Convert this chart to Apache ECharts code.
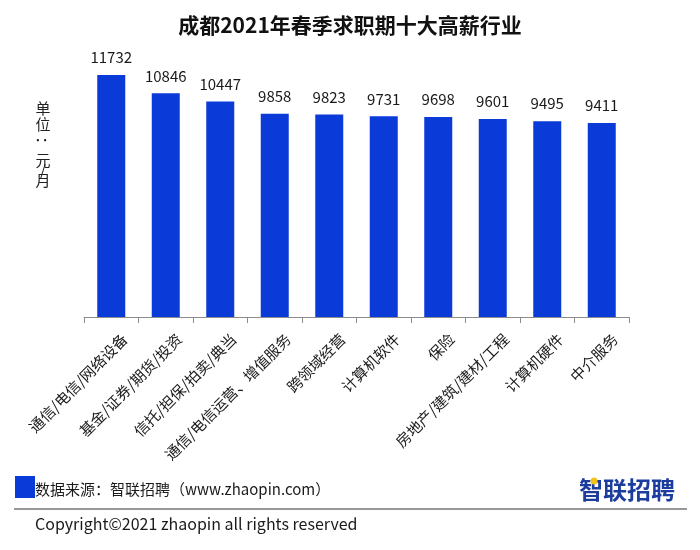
<!DOCTYPE html>
<html>
<head>
<meta charset="utf-8">
<script src="https://cdn.jsdelivr.net/npm/echarts@6/dist/echarts.min.js"></script>
<style>
html,body{margin:0;padding:0;background:#fff;}
#chart{width:700px;height:550px;}
</style>
</head>
<body>
<div id="chart"></div>
<script>
var titleText = '成都2021年春季求职期十大高薪行业';
var categories = ['通信/电信/网络设备','基金/证券/期货/投资','信托/担保/拍卖/典当','通信/电信运营、增值服务','跨领域经营','计算机软件','保险','房地产/建筑/建材/工程','计算机硬件','中介服务'];
var salaries = [11732, 10846, 10447, 9858, 9823, 9731, 9698, 9601, 9495, 9411];
var unitChars = ['单','位','：','元','/','月'];
var sourceText = '数据来源：智联招聘（www.zhaopin.com）';
var copyrightText = 'Copyright©2021 zhaopin all rights reserved';
var logoText = '智联招聘';

var FONT = '"Noto Sans CJK SC", "Noto Sans", sans-serif';
var chart = echarts.init(document.getElementById('chart'));

var unitY = [108, 124.5, 144, 160, 170, 180];
var unitGraphics = unitChars.map(function (c, i) {
  return {
    type: 'text',
    x: 43, y: unitY[i],
    rotation: c === '：' ? -Math.PI / 2 : 0,
    style: {
      text: c, fill: '#222', font: '15px ' + FONT,
      textAlign: 'center', textVerticalAlign: 'middle'
    }
  };
});

var option = {
  backgroundColor: '#ffffff',
  animation: false,
  title: {
    text: titleText,
    left: 'center',
    top: 10,
    textStyle: { fontSize: 21, fontWeight: 'bold', color: '#111', fontFamily: FONT }
  },
  grid: { left: 84, right: 71, top: 69.5, bottom: 233, containLabel: false },
  xAxis: {
    type: 'category',
    data: categories,
    axisLine: { lineStyle: { color: '#8c8c8c', width: 1 } },
    axisTick: { show: true, length: 6, lineStyle: { color: '#8c8c8c' } },
    axisLabel: {
      interval: 0,
      rotate: 45,
      margin: 6,
      fontSize: 15,
      lineHeight: 38,
      verticalAlign: 'top',
      color: '#1a1a1a',
      fontFamily: FONT
    }
  },
  yAxis: {
    type: 'value',
    min: 0,
    max: 12000,
    show: false,
    splitLine: { show: false }
  },
  series: [{
    type: 'bar',
    data: salaries,
    barWidth: 28,
    itemStyle: { color: '#0a3ad7' },
    label: {
      show: true,
      position: 'top',
      distance: 10,
      fontSize: 15,
      color: '#1a1a1a',
      fontFamily: FONT
    }
  }],
  graphic: unitGraphics.concat([
    { type: 'rect', shape: { x: 15, y: 476, width: 20, height: 22 }, style: { fill: '#0a3ad7' } },
    { type: 'text', x: 35, y: 489, style: { text: sourceText, fill: '#1a1a1a', font: '15px ' + FONT, textVerticalAlign: 'middle' } },
    { type: 'text', x: 675, y: 490, style: { text: logoText, fill: '#1c3d9e', font: 'bold 24px ' + FONT, textAlign: 'right', textVerticalAlign: 'middle' } },
    { type: 'circle', shape: { cx: 594, cy: 481, r: 3.5 }, style: { fill: '#f2c21b' } },
    { type: 'line', shape: { x1: 14, y1: 509, x2: 687, y2: 509 }, style: { stroke: '#333', lineWidth: 1.2 } },
    { type: 'text', x: 35, y: 524, style: { text: copyrightText, fill: '#1a1a1a', font: '16px ' + FONT, textVerticalAlign: 'middle' } }
  ])
};
chart.setOption(option);
</script>
</body>
</html>
